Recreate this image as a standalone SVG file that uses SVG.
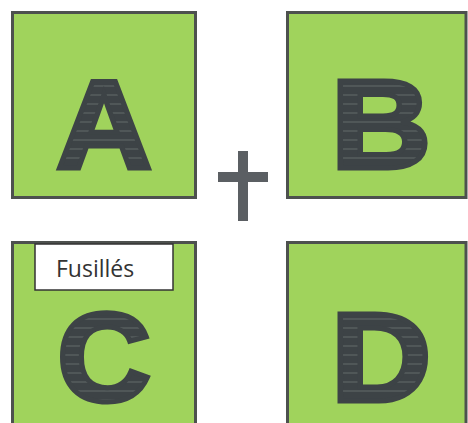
<svg xmlns="http://www.w3.org/2000/svg" width="468" height="423" viewBox="0 0 468 423">
  <defs>
    <pattern id="stripes" patternUnits="userSpaceOnUse" width="10" height="9">
      <rect width="10" height="9" fill="#3d4346"/>
      <line x1="0" y1="8.5" x2="10" y2="8.5" stroke="#7d8783" stroke-width="0.8" stroke-opacity="0.7"/>
    </pattern>
  </defs>
  <style>
    .box { fill: #a0d35c; stroke: #4d514e; stroke-width: 3; }
    .letter { font-family: "Liberation Sans", Arial, sans-serif; font-weight: bold; font-size: 126px; fill: url(#stripes); stroke: #3d4346; stroke-width: 5; stroke-linejoin: miter; text-anchor: middle; }
    .plus { fill: #5b5f63; }
    .label-box { fill: #ffffff; stroke: #333333; stroke-width: 1.5; }
    .label { font-family: "Open Sans", "Liberation Sans", sans-serif; font-size: 23px; fill: #333333; }
  </style>
  <rect width="468" height="423" fill="#ffffff"/>
  <g id="node-A">
    <rect class="box" x="12.5" y="12.5" width="183" height="185"/>
    <text class="letter" transform="translate(104,167.5) scale(1.05,1)">A</text>
  </g>
  <g id="node-B">
    <rect class="box" x="287.5" y="12.5" width="178.5" height="185"/>
    <text class="letter" transform="translate(381,167.5) scale(1.1,1)">B</text>
  </g>
  <g id="node-C">
    <rect class="box" x="12.5" y="242.5" width="183" height="190"/>
    <text class="letter" transform="translate(104,400.5) scale(1.03,1)">C</text>
    <rect class="label-box" x="35" y="244" width="138" height="46"/>
    <text class="label" x="56" y="277">Fusillés</text>
  </g>
  <g id="node-D">
    <rect class="box" x="287.5" y="242.5" width="178.5" height="190"/>
    <text class="letter" transform="translate(381,400.5) scale(1.1,1)">D</text>
  </g>
  <g id="connectors">
    <rect class="plus" x="238" y="151" width="10" height="70"/>
    <rect class="plus" x="218" y="172" width="50" height="10"/>
  </g>
</svg>
